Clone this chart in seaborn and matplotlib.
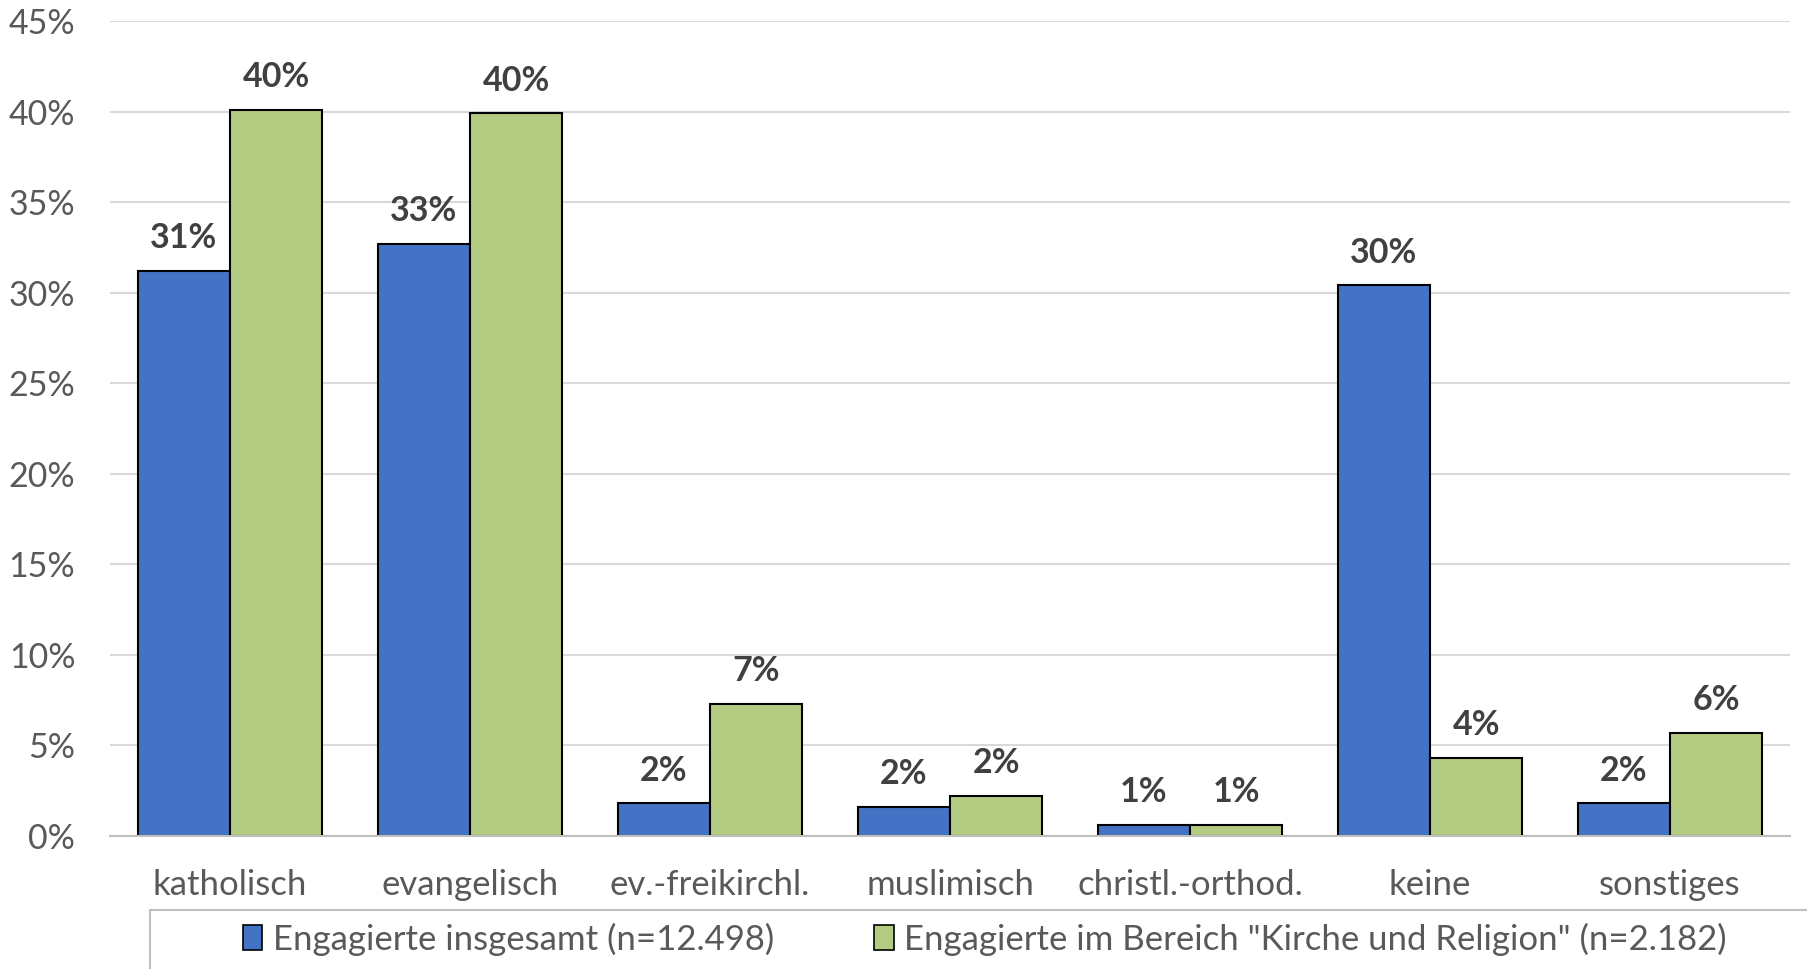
import pandas as pd
import seaborn as sns
import matplotlib.pyplot as plt
from matplotlib.ticker import PercentFormatter
from matplotlib.patches import Rectangle, Patch

# Religious affiliation of volunteers (shares)
categories = ['katholisch', 'evangelisch', 'ev.-freikirchl.', 'muslimisch',
              'christl.-orthod.', 'keine', 'sonstiges']
series_names = ['Engagierte insgesamt (n=12.498)',
                'Engagierte im Bereich "Kirche und Religion" (n=2.182)']
insgesamt = [0.312, 0.327, 0.018, 0.016, 0.006, 0.304, 0.018]
kirche = [0.401, 0.399, 0.073, 0.022, 0.006, 0.043, 0.057]
colors = ['#4472C4', '#B3CC82']
y_ticks = [0, 0.05, 0.10, 0.15, 0.20, 0.25, 0.30, 0.35, 0.40, 0.45]

df = pd.DataFrame({
    'Religion': categories * 2,
    'Gruppe': [series_names[0]] * len(categories) + [series_names[1]] * len(categories),
    'Anteil': insgesamt + kirche,
})

sns.set_style('white')
plt.rcParams['font.family'] = ['Lato', 'DejaVu Sans']

fig = plt.figure(figsize=(18.07, 9.69), dpi=100)
ax = fig.add_axes([0.0609, 0.1373, 0.9297, 0.841])

sns.barplot(
    data=df, x='Religion', y='Anteil', hue='Gruppe',
    order=categories, hue_order=series_names, palette=colors,
    width=0.77, edgecolor='black', linewidth=1.5, saturation=1,
    legend=False, ax=ax
)

for cont in ax.containers:
    ax.bar_label(cont, fmt='{:.0%}', padding=12, fontsize=24.5,
                 fontweight='bold', color='#404040')

ax.set_ylim(0, 0.45)
ax.set_xlim(-0.5, len(categories) - 0.5)
ax.set_yticks(y_ticks)
ax.yaxis.set_major_formatter(PercentFormatter(xmax=1, decimals=0))
ax.set_xlabel('')
ax.set_ylabel('')
ax.yaxis.grid(True, color='#d9d9d9', linewidth=1.5)
ax.set_axisbelow(True)
for side in ['left', 'top', 'right']:
    ax.spines[side].set_visible(False)
ax.spines['bottom'].set_color('#bfbfbf')
ax.spines['bottom'].set_linewidth(1.5)
ax.tick_params(axis='y', length=0, pad=25, labelsize=24.5, labelcolor='#595959')
ax.tick_params(axis='x', length=0, pad=24, labelsize=25, labelcolor='#595959')

# legend at the bottom, its frame runs off the page like in the source
handles = [Patch(facecolor=c, edgecolor='black', linewidth=1.2) for c in colors]
fig.legend(handles, series_names, loc='center', bbox_to_anchor=(0.545, 0.031),
           ncol=2, frameon=False, fontsize=25, labelcolor='#595959',
           handlelength=0.55, handleheight=0.7, handletextpad=0.3,
           columnspacing=2.9)
fig.patches.append(Rectangle((0.083, -0.2), 1.0, 0.261, transform=fig.transFigure,
                             fill=False, edgecolor='#bfbfbf', linewidth=1.5))

fig.savefig('out.png', dpi=100)
